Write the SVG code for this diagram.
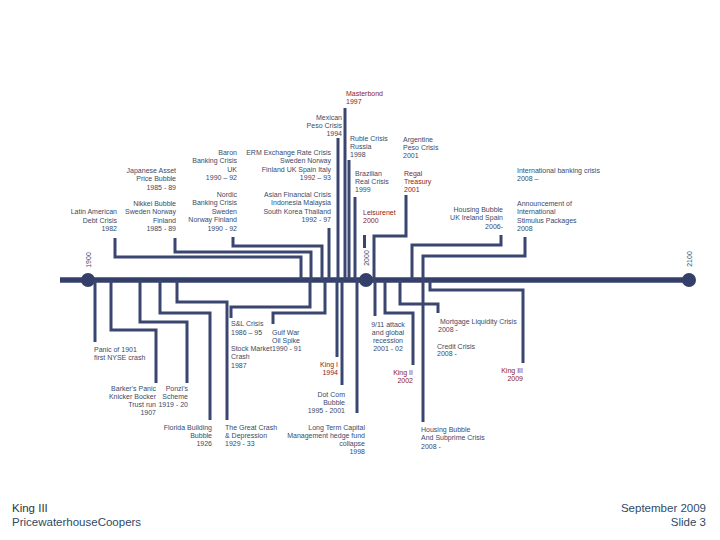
<svg xmlns="http://www.w3.org/2000/svg" width="720" height="540" viewBox="0 0 720 540">
<style>
.t{font-family:"Liberation Sans",Arial,sans-serif;font-size:7px;fill:#3a4a68}
.r{fill:#8b1c1c}
.e{text-anchor:end}
.m{text-anchor:middle}
.ax{font-family:"Liberation Sans",Arial,sans-serif;font-size:7px;fill:#3a4a68;text-anchor:middle}
.c path{stroke:#3a4670;stroke-width:3;fill:none}
.f{font-family:"Liberation Sans",Arial,sans-serif;font-size:11.5px}
</style>
<rect width="720" height="540" fill="#ffffff"/>

<g id="axis">
<line x1="60" y1="280" x2="689" y2="280" stroke="#34406a" stroke-width="5.5"/>
<circle cx="88" cy="280" r="7" fill="#34406a"/>
<circle cx="366" cy="280" r="7" fill="#34406a"/>
<circle cx="689" cy="280" r="7" fill="#34406a"/>
<text class="ax" transform="translate(90.5,260) rotate(-90)">1900</text>
<text class="ax" transform="translate(368.5,258) rotate(-90)">2000</text>
<text class="ax" transform="translate(691.5,259) rotate(-90)">2100</text>
</g>

<g id="connectors" class="c">
<path d="M115 238V257H301V280"/>
<path d="M175 238V252H311V280"/>
<path d="M233 237V246H322V280"/>
<path d="M329 228V280"/>
<path d="M338 138V280"/>
<path d="M345 108V280"/>
<path d="M349 160V280"/>
<path d="M355 197V280"/>
<path d="M364.5 235V248"/>
<path d="M406 195V236H374V280"/>
<path d="M501 235V245H412V280"/>
<path d="M525 237V256H423V280"/>
<path d="M95 280V342"/>
<path d="M111 280V330H156V383"/>
<path d="M140 280V322H187V383"/>
<path d="M160 280V313H210V420"/>
<path d="M177 280V302H227V420"/>
<path d="M310 280V307H231V318"/>
<path d="M325 280V313H273V324"/>
<path d="M337 280V357"/>
<path d="M342 280V385"/>
<path d="M357 280V413"/>
<path d="M375 280V316"/>
<path d="M385 280V313H413V365"/>
<path d="M400 280V304H438V313"/>
<path d="M423 280V422"/>
<path d="M430 280V290H523V363"/>
</g>

<g id="masterbond"><text class="t r" x="346" y="95.5">Masterbond<tspan x="346" dy="8">1997</tspan></text></g>
<g id="mexican"><text class="t e" x="342" y="119.5">Mexican<tspan x="342" dy="8">Peso Crisis</tspan><tspan x="342" dy="8">1994</tspan></text></g>
<g id="ruble"><text class="t" x="350" y="140.5">Ruble Crisis<tspan x="350" dy="8">Russia</tspan><tspan x="350" dy="8">1998</tspan></text></g>
<g id="argentine"><text class="t" x="403" y="141.5">Argentine<tspan x="403" dy="8">Peso Crisis</tspan><tspan x="403" dy="8">2001</tspan></text></g>
<g id="brazilian"><text class="t" x="355" y="175.5">Brazilian<tspan x="355" dy="8">Real Crisis</tspan><tspan x="355" dy="8">1999</tspan></text></g>
<g id="regal"><text class="t r" x="404" y="175.5">Regal<tspan x="404" dy="8">Treasury</tspan><tspan x="404" dy="8">2001</tspan></text></g>
<g id="leisurenet"><text class="t r" x="363" y="214.5">Leisurenet<tspan x="363" dy="8">2000</tspan></text></g>
<g id="housing2006"><text class="t e" x="503" y="211.5">Housing Bubble<tspan x="503" dy="8.5">UK Ireland Spain</tspan><tspan x="503" dy="8.5">2006-</tspan></text></g>
<g id="intlbanking"><text class="t" x="517" y="172.5">International banking crisis<tspan x="517" dy="8">2008 –</tspan></text></g>
<g id="stimulus"><text class="t" x="517" y="205.5">Announcement of<tspan x="517" dy="8.5">International</tspan><tspan x="517" dy="8.5">Stimulus Packages</tspan><tspan x="517" dy="8.5">2008</tspan></text></g>
<g id="japanese"><text class="t e" x="176" y="172.5">Japanese Asset<tspan x="176" dy="8.5">Price Bubble</tspan><tspan x="176" dy="8.5">1985 - 89</tspan></text></g>
<g id="nikkei"><text class="t e" x="176" y="205.5">Nikkei Bubble<tspan x="176" dy="8.5">Sweden Norway</tspan><tspan x="176" dy="8.5">Finland</tspan><tspan x="176" dy="8.5">1985 - 89</tspan></text></g>
<g id="latin"><text class="t e" x="117" y="214">Latin American<tspan x="117" dy="8.5">Debt Crisis</tspan><tspan x="117" dy="8.5">1982</tspan></text></g>
<g id="baron"><text class="t e" x="237" y="154.5">Baron<tspan x="237" dy="8.5">Banking Crisis</tspan><tspan x="237" dy="8.5">UK</tspan><tspan x="237" dy="8.5">1990 – 92</tspan></text></g>
<g id="nordic"><text class="t e" x="237" y="196.5">Nordic<tspan x="237" dy="8.5">Banking Crisis</tspan><tspan x="237" dy="8.5">Sweden</tspan><tspan x="237" dy="8.5">Norway Finland</tspan><tspan x="237" dy="8.5">1990 - 92</tspan></text></g>
<g id="erm"><text class="t e" x="331" y="154.5">ERM Exchange Rate Crisis<tspan x="331" dy="8.5">Sweden Norway</tspan><tspan x="331" dy="8.5">Finland UK Spain Italy</tspan><tspan x="331" dy="8.5">1992 – 93</tspan></text></g>
<g id="asian"><text class="t e" x="331" y="196.5">Asian Financial Crisis<tspan x="331" dy="8.5">Indonesia Malaysia</tspan><tspan x="331" dy="8.5">South Korea Thailand</tspan><tspan x="331" dy="8.5">1992 - 97</tspan></text></g>

<g id="snl"><text class="t" x="231" y="325.5">S&amp;L Crisis<tspan x="231" dy="9">1986 – 95</tspan></text></g>
<g id="gulf"><text class="t" x="272" y="334.5">Gulf War<tspan x="272" dy="8.5">Oil Spike</tspan><tspan x="272" dy="8">1990 - 91</tspan></text></g>
<g id="stock"><text class="t" x="231" y="351">Stock Market<tspan x="231" dy="8.3">Crash</tspan><tspan x="231" dy="8.3">1987</tspan></text></g>
<g id="king1"><text class="t r e" x="338" y="366.5">King I<tspan x="338" dy="8">1994</tspan></text></g>
<g id="dotcom"><text class="t e" x="345" y="396.5">Dot Com<tspan x="345" dy="8.3">Bubble</tspan><tspan x="345" dy="8.3">1995 - 2001</tspan></text></g>
<g id="ltcm"><text class="t e" x="365" y="429.5">Long Term Capital<tspan x="365" dy="8.3">Management hedge fund</tspan><tspan x="365" dy="8.3">collapse</tspan><tspan x="365" dy="8.3">1998</tspan></text></g>
<g id="nineeleven"><text class="t m" x="388" y="326.5">9/11 attack<tspan x="388" dy="8.3">and global</tspan><tspan x="388" dy="8.3">recession</tspan><tspan x="388" dy="8.3">2001 - 02</tspan></text></g>
<g id="king2"><text class="t r e" x="413" y="374.5">King II<tspan x="413" dy="8">2002</tspan></text></g>
<g id="mortgage"><text class="t" x="440" y="323.5">Mortgage Liquidity Crisis<tspan x="438" dy="8">2008 -</tspan></text></g>
<g id="credit"><text class="t" x="437" y="348.5">Credit Crisis<tspan x="437" dy="7.5">2008 -</tspan></text></g>
<g id="king3"><text class="t r e" x="523" y="372.5">King III<tspan x="523" dy="8.5">2009</tspan></text></g>
<g id="subprime"><text class="t" x="421" y="431.5">Housing Bubble<tspan x="421" dy="8.5">And Subprime Crisis</tspan><tspan x="421" dy="8.5">2008 -</tspan></text></g>
<g id="panic1901"><text class="t" x="94" y="351.5">Panic of 1901<tspan x="94" dy="8">first NYSE crash</tspan></text></g>
<g id="barker"><text class="t e" x="156" y="390.5">Barker's Panic<tspan x="156" dy="8.5">Knicker Bocker</tspan><tspan x="156" dy="8">Trust run</tspan><tspan x="156" dy="8">1907</tspan></text></g>
<g id="ponzi"><text class="t e" x="188" y="390.5">Ponzi's<tspan x="188" dy="8.5">Scheme</tspan><tspan x="188" dy="8">1919 - 20</tspan></text></g>
<g id="florida"><text class="t e" x="212" y="429.5">Florida Building<tspan x="212" dy="8.3">Bubble</tspan><tspan x="212" dy="8.3">1926</tspan></text></g>
<g id="greatcrash"><text class="t" x="225" y="429.5">The Great Crash<tspan x="225" dy="8.3">&amp; Depression</tspan><tspan x="225" dy="8.3">1929 - 33</tspan></text></g>

<g id="footer">
<text class="f" x="12" y="512" fill="#333333">King III</text>
<text class="f" x="12" y="526" fill="#2e4a66">PricewaterhouseCoopers</text>
<text class="f" x="706" y="512" fill="#2e4a66" text-anchor="end">September 2009</text>
<text class="f" x="706" y="526" fill="#2e4a66" text-anchor="end">Slide 3</text>
</g>
</svg>
